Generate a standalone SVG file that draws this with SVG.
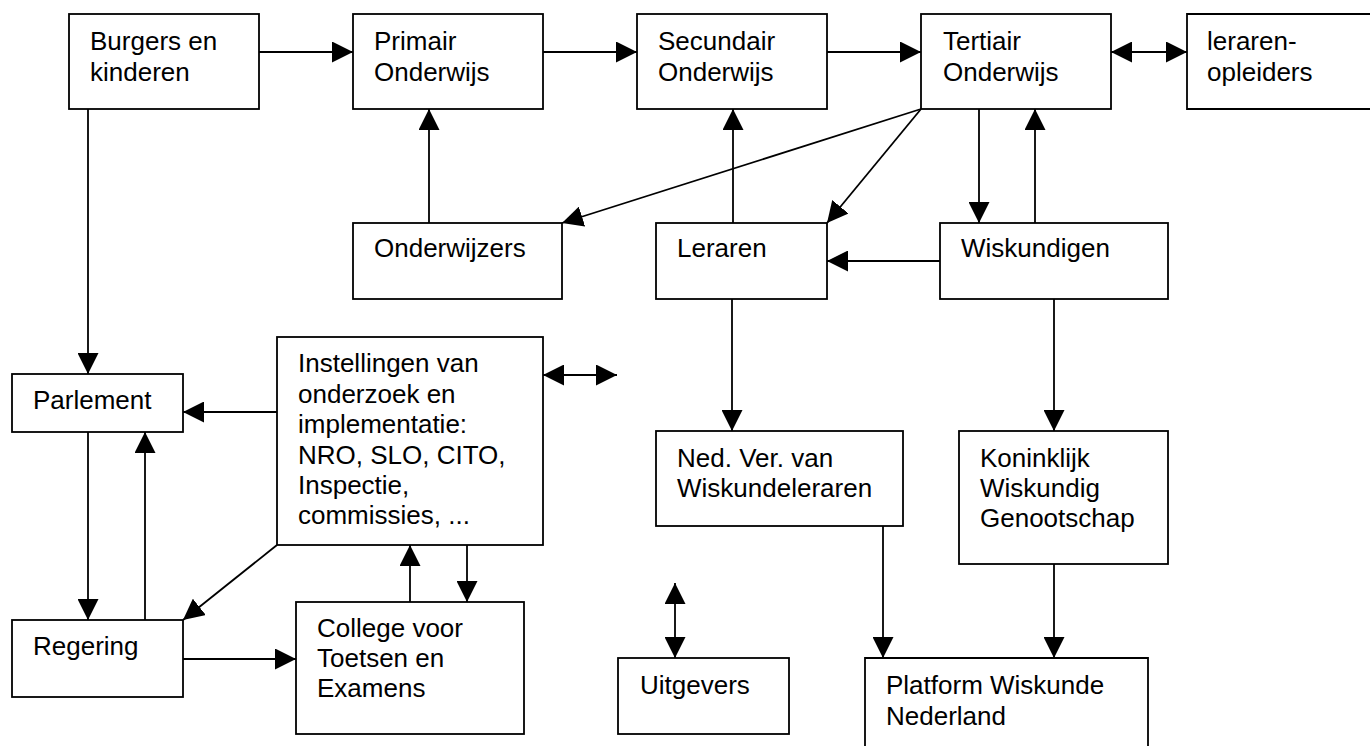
<svg xmlns="http://www.w3.org/2000/svg" width="1370" height="746" viewBox="0 0 1370 746">
<style>
.box{fill:#fff;stroke:#000;stroke-width:1.8}
.t{font-family:"Liberation Sans",Arial,sans-serif;font-size:26px;fill:#000}
.e{stroke:#000;stroke-width:1.8;fill:none;marker-end:url(#ah)}
.d{stroke:#000;stroke-width:1.8;fill:none;marker-end:url(#ah);marker-start:url(#as)}
</style>
<defs>
<marker id="ah" markerUnits="userSpaceOnUse" markerWidth="21" markerHeight="21" refX="21" refY="10.5" orient="auto"><path d="M0,0 L21,10.5 L0,21 z" fill="#000"/></marker>
<marker id="as" markerUnits="userSpaceOnUse" markerWidth="21" markerHeight="21" refX="21" refY="10.5" orient="auto-start-reverse"><path d="M0,0 L21,10.5 L0,21 z" fill="#000"/></marker>
</defs>
<rect width="1370" height="746" fill="#fff"/>
<g id="connectors">
<line class="e" x1="259" y1="52" x2="353" y2="52"/>
<line class="e" x1="543" y1="52" x2="637" y2="52"/>
<line class="e" x1="827" y1="52" x2="921" y2="52"/>
<line class="d" x1="1111" y1="52" x2="1187" y2="52"/>
<line class="e" x1="429" y1="223" x2="429" y2="109"/>
<line class="e" x1="733" y1="223" x2="733" y2="109"/>
<line class="e" x1="921" y1="109" x2="562" y2="223"/>
<line class="e" x1="921" y1="109" x2="827" y2="223"/>
<line class="e" x1="979" y1="109" x2="979" y2="223"/>
<line class="e" x1="1035" y1="223" x2="1035" y2="109"/>
<line class="e" x1="940" y1="261" x2="827" y2="261"/>
<line class="e" x1="88" y1="109" x2="88" y2="374"/>
<line class="e" x1="277" y1="412" x2="183" y2="412"/>
<line class="e" x1="88" y1="432" x2="88" y2="620"/>
<line class="e" x1="145" y1="620" x2="145" y2="432"/>
<line class="e" x1="277" y1="545" x2="183" y2="620"/>
<line class="e" x1="183" y1="659" x2="296" y2="659"/>
<line class="e" x1="410" y1="602" x2="410" y2="545"/>
<line class="e" x1="467" y1="545" x2="467" y2="602"/>
<line class="d" x1="543" y1="375" x2="617" y2="375"/>
<line class="e" x1="732" y1="299" x2="732" y2="431"/>
<line class="e" x1="1054" y1="299" x2="1054" y2="431"/>
<line class="e" x1="883" y1="526" x2="883" y2="658"/>
<line class="e" x1="1054" y1="564" x2="1054" y2="658"/>
<line class="d" x1="675" y1="583" x2="675" y2="658"/>
</g>
<g id="burgers"><rect class="box" x="69" y="14" width="190" height="95"/><text class="t" x="90" y="50">Burgers en</text><text class="t" x="90" y="81">kinderen</text></g>
<g id="primair"><rect class="box" x="353" y="14" width="190" height="95"/><text class="t" x="374" y="50">Primair</text><text class="t" x="374" y="81">Onderwijs</text></g>
<g id="secundair"><rect class="box" x="637" y="14" width="190" height="95"/><text class="t" x="658" y="50">Secundair</text><text class="t" x="658" y="81">Onderwijs</text></g>
<g id="tertiair"><rect class="box" x="921" y="14" width="190" height="95"/><text class="t" x="943" y="50">Tertiair</text><text class="t" x="943" y="81">Onderwijs</text></g>
<g id="lerarenopleiders"><path class="box" d="M1371,14 H1187 V109 H1371"/><text class="t" x="1207" y="50">leraren-</text><text class="t" x="1207" y="81">opleiders</text></g>
<g id="onderwijzers"><rect class="box" x="353" y="223" width="209" height="76"/><text class="t" x="374" y="257">Onderwijzers</text></g>
<g id="leraren"><rect class="box" x="656" y="223" width="171" height="76"/><text class="t" x="677" y="257">Leraren</text></g>
<g id="wiskundigen"><rect class="box" x="940" y="223" width="228" height="76"/><text class="t" x="961" y="257">Wiskundigen</text></g>
<g id="parlement"><rect class="box" x="12" y="374" width="171" height="58"/><text class="t" x="33" y="409">Parlement</text></g>
<g id="instellingen"><rect class="box" x="277" y="337" width="266" height="208"/>
<text class="t" x="298" y="372">Instellingen van</text>
<text class="t" x="298" y="403">onderzoek en</text>
<text class="t" x="298" y="433">implementatie:</text>
<text class="t" x="298" y="464">NRO, SLO, CITO,</text>
<text class="t" x="298" y="494">Inspectie,</text>
<text class="t" x="298" y="524">commissies, ...</text></g>
<g id="regering"><rect class="box" x="12" y="620" width="171" height="77"/><text class="t" x="33" y="655">Regering</text></g>
<g id="college"><rect class="box" x="296" y="602" width="228" height="132"/><text class="t" x="317" y="637">College voor</text><text class="t" x="317" y="667">Toetsen en</text><text class="t" x="317" y="697">Examens</text></g>
<g id="nedver"><rect class="box" x="656" y="431" width="247" height="95"/><text class="t" x="677" y="467">Ned. Ver. van</text><text class="t" x="677" y="497">Wiskundeleraren</text></g>
<g id="koninklijk"><rect class="box" x="959" y="431" width="209" height="133"/><text class="t" x="980" y="467">Koninklijk</text><text class="t" x="980" y="497">Wiskundig</text><text class="t" x="980" y="527">Genootschap</text></g>
<g id="uitgevers"><rect class="box" x="618" y="658" width="171" height="76"/><text class="t" x="640" y="694">Uitgevers</text></g>
<g id="platform"><path class="box" d="M865,747 V658 H1148 V747"/><text class="t" x="886" y="694">Platform Wiskunde</text><text class="t" x="886" y="725">Nederland</text></g>
</svg>
